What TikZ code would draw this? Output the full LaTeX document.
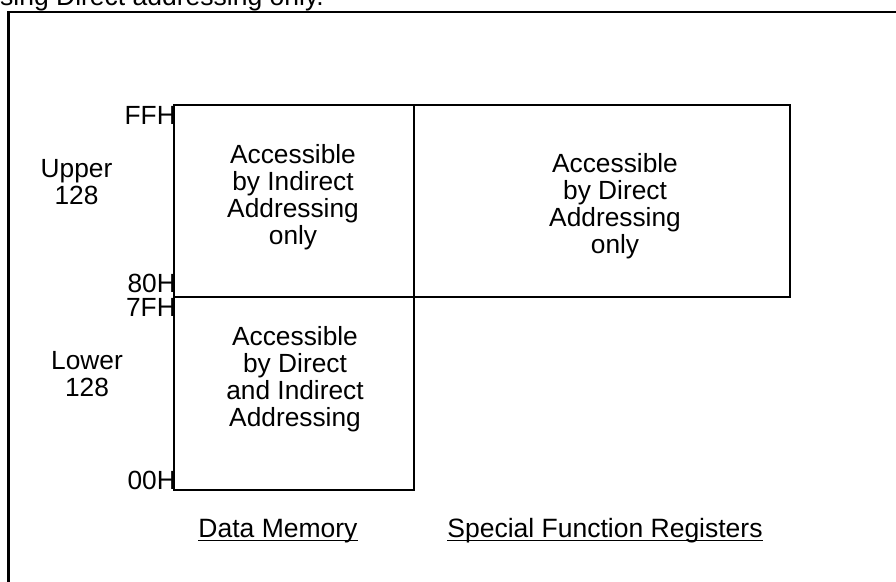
\documentclass[tikz,border=0pt]{standalone}
\usepackage{fontspec}
\setmainfont{Liberation Sans}
\usetikzlibrary{positioning}

\tikzset{
  cell/.style={draw,line width=1.2pt,inner sep=0pt,outer sep=0pt},
  addr/.style={anchor=base east,inner sep=0pt},
  lbl/.style={align=center,inner sep=0pt},
  caption/.style={anchor=base,inner sep=0pt,font=\fontsize{26.5}{27}\selectfont}
}

\begin{document}
\begin{tikzpicture}[x=1pt,y=-1pt,font=\fontsize{26.3}{27}\selectfont]
  \useasboundingbox (0,0) rectangle (896,581);
  \clip (0,0) rectangle (896,581);

  % cut-off frame and heading
  \draw[line width=2.2pt] (8.5,600) -- (8.5,12) -- (910,12);
  \node[anchor=base west,inner sep=0pt,font=\fontsize{26.5}{27}\selectfont] (head) at (0,5) {sing Direct addressing only.};

  % memory blocks
  \node[cell,minimum width=240pt,minimum height=192pt] (upper) at (294,201) {};
  \node[cell,minimum width=376pt,minimum height=192pt,right=0pt of upper] (sfr) {};
  \node[cell,minimum width=240pt,minimum height=193pt,below=0pt of upper] (lower) {};

  \node[lbl] (upperTxt) at (293,197.4) {Accessible\\by Indirect\\Addressing\\only};
  \node[lbl] (sfrTxt) at (615,205.9) {Accessible\\by Direct\\Addressing\\only};
  \node[lbl] (lowerTxt) at (295,378.9) {Accessible\\by Direct\\and Indirect\\Addressing};

  % addresses
  \foreach \y/\t in {124/FFH, 292/80H, 316/7FH, 489/00H}
    \node[addr] (a\t) at (176,\y) {\t};

  \node[lbl] (up128) at (76.5,182.2) {Upper\\128};
  \node[lbl] (lo128) at (87,374.2) {Lower\\128};

  % captions
  \node[caption] (dm) at (278,537) {Data Memory};
  \node[caption] (sf) at (605,537) {Special Function Registers};
  \foreach \n in {dm,sf}
    \draw[line width=1.3pt] ([yshift=-3.5pt]\n.base west) -- ([yshift=-3.5pt]\n.base east);
\end{tikzpicture}
\end{document}
